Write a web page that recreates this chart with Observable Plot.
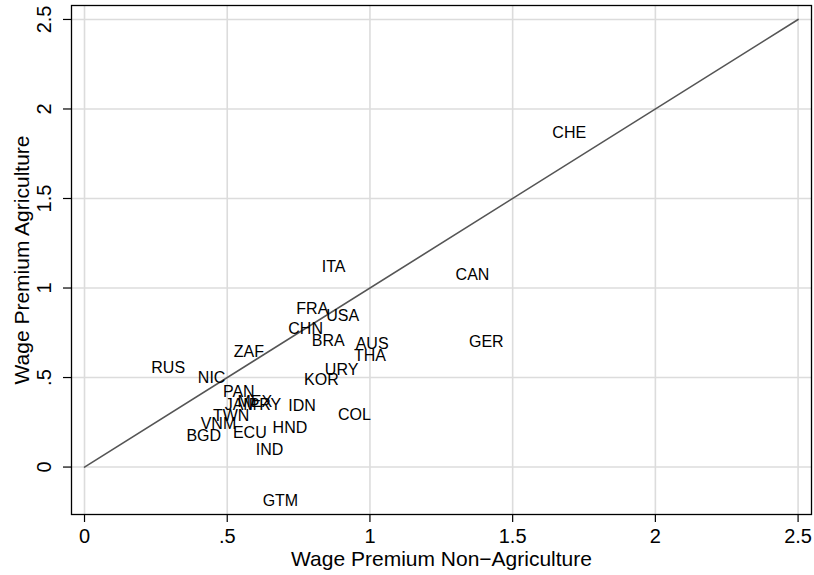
<!DOCTYPE html>
<html>
<head>
<meta charset="utf-8">
<script src="https://cdn.jsdelivr.net/npm/d3@7"></script>
<script src="https://cdn.jsdelivr.net/npm/@observablehq/plot@0.6"></script>
<style>
  html, body { margin: 0; padding: 0; background: #ffffff; }
  #chart svg { display: block; }
</style>
</head>
<body>
<div id="chart"></div>
<script>
const countries = ["CHE","ITA","CAN","FRA","USA","CHN","BRA","AUS","THA","GER","ZAF","RUS","NIC","URY","KOR","PAN","JAM","MEX","PRY","IDN","COL","TWN","VNM","HND","BGD","ECU","IND","GTM"];
const wageNonAg = [1.625,0.817,1.286,0.728,0.833,0.700,0.782,0.936,0.930,1.333,0.509,0.220,0.383,0.828,0.755,0.471,0.477,0.522,0.561,0.700,0.874,0.436,0.393,0.645,0.343,0.506,0.586,0.610];
const wageAg    = [1.868,1.120,1.075,0.884,0.846,0.772,0.703,0.688,0.623,0.701,0.641,0.552,0.498,0.543,0.489,0.418,0.349,0.366,0.349,0.344,0.293,0.284,0.241,0.219,0.176,0.189,0.098,-0.187];

const diagX = [0, 2.5];
const diagY = [0, 2.5];

const xTicks = [0, 0.5, 1, 1.5, 2, 2.5];
const xTickLabels = ["0", ".5", "1", "1.5", "2", "2.5"];
const yTicks = [0, 0.5, 1, 1.5, 2, 2.5];
const yTickLabels = ["0", ".5", "1", "1.5", "2", "2.5"];

const xTitle = "Wage Premium Non\u2212Agriculture";
const yTitle = "Wage Premium Agriculture";

const points = countries.map((c, i) => ({country: c, x: wageNonAg[i], y: wageAg[i]}));
const diag = diagX.map((x, i) => ({x, y: diagY[i]}));

const chart = Plot.plot({
  width: 814,
  height: 575,
  marginLeft: 71,
  marginRight: 3,
  marginTop: 5,
  marginBottom: 61,
  style: {fontFamily: "'Liberation Sans', Arial, Helvetica, sans-serif", background: "#ffffff", color: "#000", overflow: "visible"},
  x: {domain: [-0.0456, 2.547], axis: null},
  y: {domain: [-0.265, 2.578], axis: null},
  marks: [
    Plot.gridX(xTicks, {stroke: "#dcdcdc", strokeOpacity: 1, strokeWidth: 1.6}),
    Plot.gridY(yTicks, {stroke: "#dcdcdc", strokeOpacity: 1, strokeWidth: 1.6}),
    Plot.line(diag, {x: "x", y: "y", stroke: "#555555", strokeWidth: 1.6}),
    Plot.text(points, {x: "x", y: "y", text: "country", textAnchor: "start", dx: 4, fontSize: 16, fill: "#000"}),
    Plot.frame({stroke: "#000", strokeWidth: 1.3}),
    Plot.axisX(xTicks, {tickSize: 8, tickPadding: 6, fontSize: 20, stroke: "#000", fill: "#000", strokeWidth: 1.2,
      tickFormat: d => xTickLabels[xTicks.indexOf(d)], label: null}),
    Plot.axisY(yTicks, {tickSize: 8, tickFormat: () => "", stroke: "#000", strokeWidth: 1.2, label: null}),
    Plot.text(yTicks, {y: d => d, text: (d, i) => yTickLabels[i], frameAnchor: "left", dx: -21, rotate: -90,
      lineAnchor: "bottom", textAnchor: "middle", fontSize: 20, fill: "#000"}),
    Plot.text([xTitle], {text: d => d, frameAnchor: "bottom", dy: 51, lineAnchor: "bottom", textAnchor: "middle", fontSize: 21, fill: "#000"}),
    Plot.text([yTitle], {text: d => d, frameAnchor: "left", dx: -43, rotate: -90, lineAnchor: "bottom", textAnchor: "middle", fontSize: 21, fill: "#000"})
  ]
});
document.getElementById("chart").appendChild(chart);
</script>
</body>
</html>
